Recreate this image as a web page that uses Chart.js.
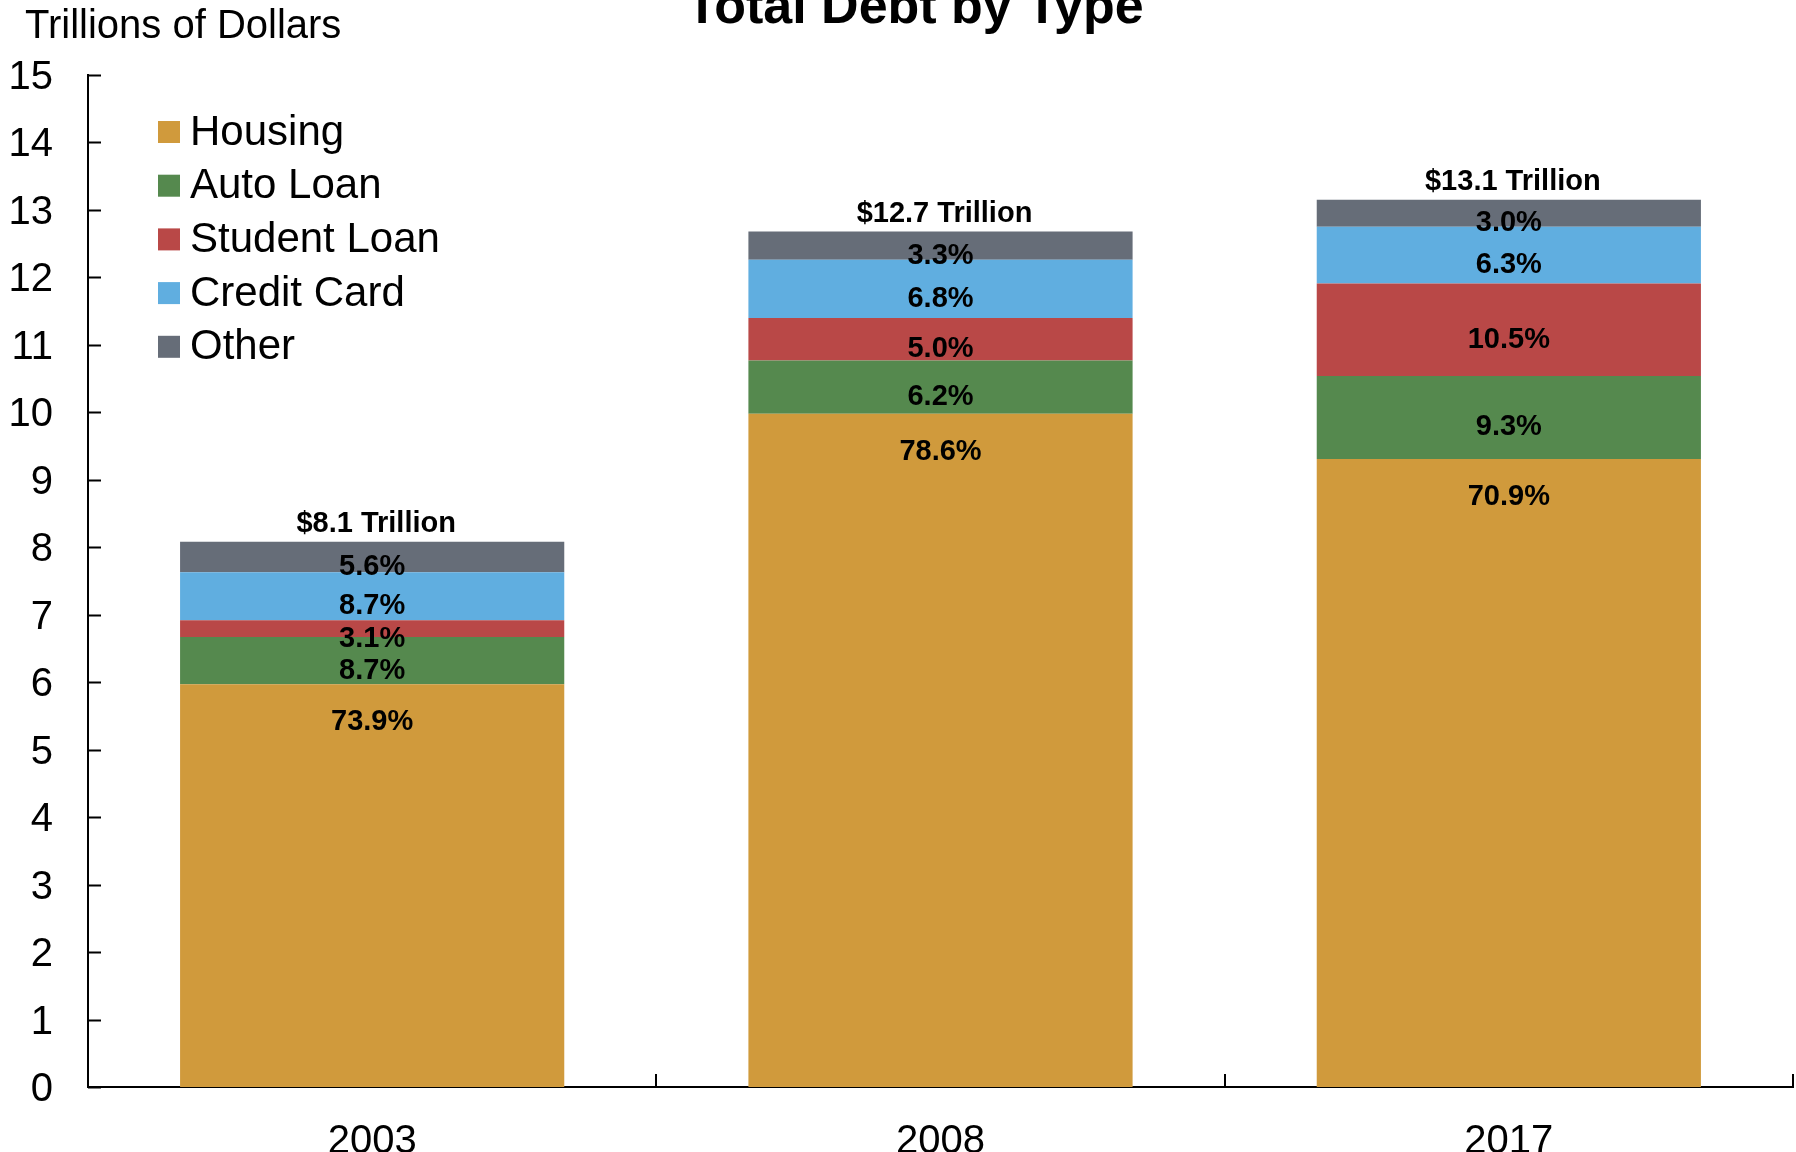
<!DOCTYPE html>
<html>
<head>
<meta charset="utf-8">
<script src="https://cdn.jsdelivr.net/npm/chart.js@4.4.1/dist/chart.umd.min.js"></script>
<style>
    html, body { margin: 0; padding: 0; background: #fff; }
    #wrap { width: 1796px; height: 1152px; }
</style>
</head>
<body>
<div id="wrap"><canvas id="debtChart" width="1796" height="1152"></canvas></div>
<script>
// values in trillions of dollars
const years = ['2003', '2008', '2017'];
const housing = [5.97, 9.98, 9.31];
const autoLoan = [0.70, 0.79, 1.23];
const studentLoan = [0.25, 0.63, 1.37];
const creditCard = [0.71, 0.86, 0.84];
const other = [0.45, 0.42, 0.40];

// printed labels
const housingPct = ['73.9%', '78.6%', '70.9%'];
const autoPct = ['8.7%', '6.2%', '9.3%'];
const studentPct = ['3.1%', '5.0%', '10.5%'];
const creditPct = ['8.7%', '6.8%', '6.3%'];
const otherPct = ['5.6%', '3.3%', '3.0%'];
const totals = [8.1, 12.7, 13.1];
const yTicks = [0, 15];

const FONT = '"Liberation Sans", Arial, Helvetica, sans-serif';

const series = [
    { label: 'Housing', data: housing, pct: housingPct, color: '#D09A3C' },
    { label: 'Auto Loan', data: autoLoan, pct: autoPct, color: '#55894E' },
    { label: 'Student Loan', data: studentLoan, pct: studentPct, color: '#B94847' },
    { label: 'Credit Card', data: creditCard, pct: creditPct, color: '#60AEE0' },
    { label: 'Other', data: other, pct: otherPct, color: '#666D78' }
];

const decorPlugin = {
    id: 'decor',
    afterDraw(chart) {
        const ctx = chart.ctx;
        const area = chart.chartArea;
        const xs = chart.scales.x;
        const ys = chart.scales.y;
        ctx.save();

        // title and axis caption
        ctx.fillStyle = '#000';
        ctx.textBaseline = 'alphabetic';
        ctx.textAlign = 'center';
        ctx.font = 'bold 52px ' + FONT;
        ctx.fillText('Total Debt by Type', 915, 23);
        ctx.textAlign = 'left';
        ctx.font = '40px ' + FONT;
        ctx.fillText('Trillions of Dollars', 25, 38);

        // inner tick marks
        ctx.strokeStyle = '#000';
        ctx.lineWidth = 2;
        ctx.beginPath();
        for (let v = yTicks[0]; v <= yTicks[1]; v++) {
            const y = Math.round(ys.getPixelForValue(v)) + 0.5;
            ctx.moveTo(area.left, y);
            ctx.lineTo(area.left + 13, y);
        }
        for (let i = 0; i < years.length; i++) {
            const xr = i < years.length - 1
                ? (xs.getPixelForTick(i) + xs.getPixelForTick(i + 1)) / 2
                : area.right;
            ctx.moveTo(Math.round(xr), area.bottom);
            ctx.lineTo(Math.round(xr), area.bottom - 13);
        }
        ctx.stroke();

        // legend
        ctx.font = '42px ' + FONT;
        ctx.textBaseline = 'middle';
        series.forEach((s, i) => {
            const cy = 132 + i * 53.7;
            ctx.fillStyle = s.color;
            ctx.fillRect(158, cy - 11, 22, 22);
            ctx.fillStyle = '#000';
            ctx.fillText(s.label, 190, cy + 1);
        });

        // segment labels
        ctx.font = 'bold 29px ' + FONT;
        ctx.textAlign = 'center';
        ctx.fillStyle = '#000';
        series.forEach((s, di) => {
            const meta = chart.getDatasetMeta(di);
            meta.data.forEach((bar, i) => {
                let y = (bar.y + bar.base) / 2 + 8;
                if (di === 0) y = bar.y + 36;
                ctx.fillText(s.pct[i], bar.x, y + 2);
            });
        });

        // totals on top
        const topMeta = chart.getDatasetMeta(series.length - 1);
        topMeta.data.forEach((bar, i) => {
            ctx.fillText('$' + totals[i].toFixed(1) + ' Trillion', bar.x + 4, bar.y - 18);
        });
        ctx.restore();
    }
};

const ctx = document.getElementById('debtChart').getContext('2d');
new Chart(ctx, {
    type: 'bar',
    data: {
        labels: years,
        datasets: series.map(s => ({
            label: s.label,
            data: s.data,
            backgroundColor: s.color,
            borderWidth: 0,
            barPercentage: 0.676,
            categoryPercentage: 1.0
        }))
    },
    options: {
        responsive: false,
        animation: false,
        layout: { padding: { top: 75, right: 3, left: 0, bottom: 0 } },
        plugins: {
            legend: { display: false },
            tooltip: { enabled: false },
            title: { display: false }
        },
        scales: {
            x: {
                stacked: true,
                grid: { display: false },
                border: { display: true, color: '#000', width: 2 },
                ticks: { color: '#000', font: { family: FONT, size: 40 }, padding: 23 },
                afterFit: (scale) => { scale.height = 65; }
            },
            y: {
                stacked: true,
                min: yTicks[0],
                max: yTicks[1],
                grid: { display: false },
                border: { display: true, color: '#000', width: 2 },
                ticks: { stepSize: 1, color: '#000', font: { family: FONT, size: 40 }, padding: 27, labelOffset: 3 },
                afterFit: (scale) => { scale.width = 88; }
            }
        }
    },
    plugins: [decorPlugin]
});
</script>
</body>
</html>
